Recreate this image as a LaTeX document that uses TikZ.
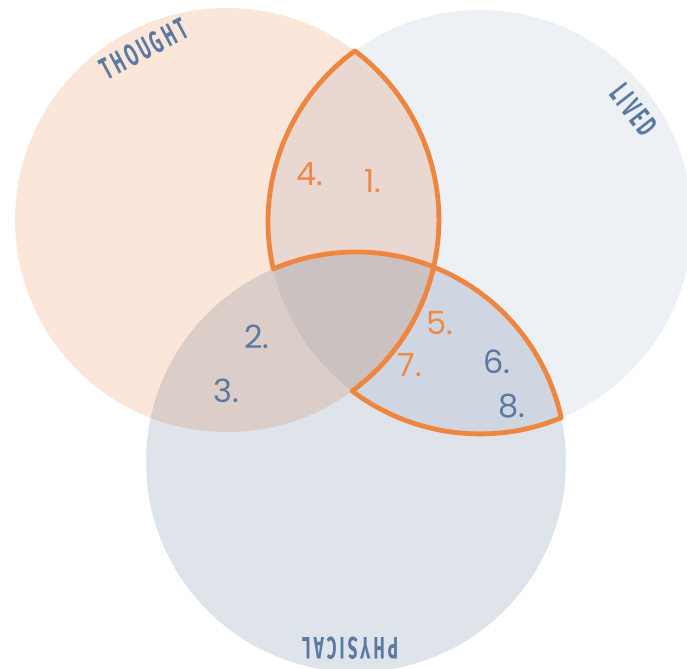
\documentclass[tikz,border=0pt]{standalone}
\usepackage{fontspec}
\usepackage{tikz}
\usepackage{xcolor}

\newfontfamily\numfont{Poppins}
\newfontfamily\tagfont[LetterSpace=18]{Fira Sans}
\definecolor{peach}{HTML}{FBE6DA}
\definecolor{mist}{HTML}{EDF0F5}
\definecolor{slate}{HTML}{DFE4EB}
\definecolor{rim}{HTML}{EE8640}
\definecolor{ink}{HTML}{5A79A3}
\definecolor{ember}{HTML}{EE8A48}

\tikzset{
  num/.style={font=\numfont\fontsize{16}{16}\selectfont},
  tag/.style={text=ink, font=\tagfont\bfseries\fontsize{15.5}{15.5}\selectfont},
  rimline/.style={draw=rim, line width=2.4pt, line join=round}
}

\begin{document}
\begin{tikzpicture}[x=0.5pt,y=-0.5pt]
  \useasboundingbox (0,0) rectangle (687,669);
  \clip (0,0) rectangle (687,669);
  \coordinate (T) at (227,220);
  \coordinate (L) at (480,222);
  \coordinate (P) at (356,462);
  \begin{scope}[blend group=multiply]
    \fill[peach] (T) circle (212);
    \fill[mist] (L) circle (212);
    \fill[slate] (P) circle (210);
  \end{scope}
  % corners of the two outlined regions
  \coordinate (tl) at (354.8,50.9);
  \coordinate (lp) at (273.3,269.0);
  \coordinate (tp) at (433.7,266.9);
  \coordinate (tb) at (352.2,391.1);
  \coordinate (lq) at (561.3,417.8);
  \draw[rimline] (tl) arc[start angle=233.8, end angle=167.2, radius=212]
    arc[start angle=-113.2, end angle=-68.3, radius=210]
    arc[start angle=12.8, end angle=-52.9, radius=212] -- cycle;
  \draw[rimline] (tp) arc[start angle=12.8, end angle=53.8, radius=212]
    arc[start angle=127.1, end angle=67.5, radius=212]
    arc[start angle=-12.2, end angle=-68.3, radius=210] -- cycle;
  % circle names
  \node[tag, rotate=28] (thought) at (144,49) {\scalebox{0.55}[1]{THOUGHT}};
  \node[tag, rotate=-52] (lived) at (634,110) {\scalebox{0.55}[1]{LIVED}};
  \node[tag, rotate=180] (physical) at (350,648) {\scalebox{0.55}[1]{PHYSICAL}};
  % numbers
  \node[num, text=ember] (n4) at (310,174) {4.};
  \node[num, text=ember] (n1) at (373,181) {1.};
  \node[num, text=ink] (n2) at (257,337) {2.};
  \node[num, text=ink] (n3) at (226,391) {3.};
  \node[num, text=ember] (n5) at (440,323) {5.};
  \node[num, text=ember] (n7) at (410,365) {7.};
  \node[num, text=ink] (n6) at (497,362) {6.};
  \node[num, text=ink] (n8) at (512,406) {8.};
\end{tikzpicture}
\end{document}
